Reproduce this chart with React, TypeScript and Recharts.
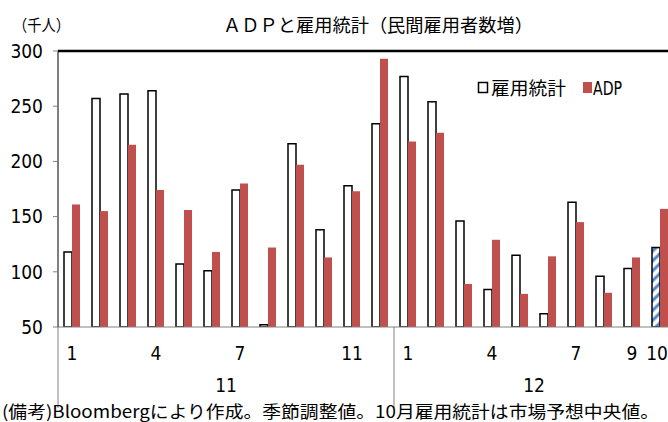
import { Bar, BarChart, Cell, Legend, ReferenceLine, XAxis, YAxis } from 'recharts';

const months = ['1', '2', '3', '4', '5', '6', '7', '8', '9', '10', '11', '12', '1', '2', '3', '4', '5', '6', '7', '8', '9', '10'];
const monthLabels = ['1', '', '', '4', '', '', '7', '', '', '', '11', '', '1', '', '', '4', '', '', '7', '', '9', '10'];
const years = ['11', '11', '11', '11', '11', '11', '11', '11', '11', '11', '11', '11', '12', '12', '12', '12', '12', '12', '12', '12', '12', '12'];
// 雇用統計 (last value = market forecast median)
const nfp = [118, 257, 261, 264, 107, 101, 174, 52, 216, 138, 178, 234, 277, 254, 146, 84, 115, 62, 163, 96, 103, 122];
const adp = [161, 155, 215, 174, 156, 118, 180, 122, 197, 113, 173, 293, 218, 226, 89, 129, 80, 114, 145, 81, 113, 157];
const yTicks = [50, 100, 150, 200, 250, 300];

const data = months.map((m, i) => ({ m: `${years[i]}-${m}`, label: monthLabels[i], year: years[i], nfp: nfp[i], adp: adp[i] }));

const W = 676;
const H = 422;
const margin = { top: 51, right: 2, left: 8, bottom: 15 };
const yAxisW = 50;
const band = (W - margin.left - margin.right - yAxisW) / data.length;

const num = '"DejaVu Sans Condensed", "DejaVu Sans", sans-serif';
const jp = '"Noto Sans CJK JP", sans-serif';
const red = '#c0504d';

function MonthTick({ x, y, index }: any) {
  const t = monthLabels[index];
  if (!t) return null;
  // last label sits at the window edge, keep it inside
  const last = index === monthLabels.length - 1;
  return (
    <text x={last ? x + 8 : x} y={y + 33} textAnchor={last ? 'end' : 'middle'} fontSize={19} fontFamily={num} fill="#000">
      {t}
    </text>
  );
}

function YearTick({ x, y, index }: any) {
  if (index > 0 && years[index] === years[index - 1]) return null;
  const n = years.filter((v) => v === years[index]).length;
  const left = x - band / 2;
  return (
    <g>
      <line x1={left} x2={left} y1={y - 40} y2={y + 41} stroke="#808080" strokeWidth={1} />
      <text x={left + (n * band) / 2} y={y + 25} textAnchor="middle" fontSize={19} fontFamily={num} fill="#000">
        {years[index]}
      </text>
    </g>
  );
}

function LegendBox() {
  return (
    <svg width={180} height={28} style={{ display: 'block', overflow: 'visible' }}>
      <rect x={2.5} y={8.5} width={9} height={10} fill="#fff" stroke="#000" strokeWidth={1.5} />
      <text x={15} y={21} fontSize={18} fontFamily={jp} textLength={75} lengthAdjust="spacingAndGlyphs">
        雇用統計
      </text>
      <rect x={107} y={8} width={9} height={11} fill={red} />
      <text x={117} y={21} fontSize={19} fontFamily={num} textLength={29} lengthAdjust="spacingAndGlyphs">
        ADP
      </text>
    </svg>
  );
}

export default function App() {
  return (
    <div style={{ position: 'absolute', left: 0, top: 0, width: 668, height: 422, overflow: 'hidden', background: '#fff' }}>
      <BarChart width={W} height={H} data={data} margin={margin} barGap={0} barSize={8}>
        <defs>
          <pattern id="hatch" patternUnits="userSpaceOnUse" width={7} height={7} patternTransform="rotate(45)">
            <rect width={7} height={7} fill="#fff" />
            <line x1={2} y1={0} x2={2} y2={7} stroke="#4f86c6" strokeWidth={3} />
          </pattern>
        </defs>
        <XAxis
          dataKey="m"
          interval={0}
          height={40}
          tickSize={0}
          tickMargin={0}
          tickLine={false}
          axisLine={{ stroke: '#808080' }}
          tick={<MonthTick />}
        />
        <XAxis
          xAxisId="yr"
          dataKey="year"
          interval={0}
          height={40}
          tickSize={0}
          tickMargin={0}
          tickLine={false}
          axisLine={false}
          tick={<YearTick />}
        />
        <YAxis
          width={yAxisW}
          domain={[50, 300]}
          ticks={yTicks}
          interval={0}
          allowDataOverflow
          axisLine={{ stroke: '#000' }}
          tickLine={{ stroke: '#808080' }}
          tickSize={5}
          tickMargin={10}
          tick={{ fontSize: 19, fontFamily: num, fill: '#000' }}
        />
        <ReferenceLine y={300} stroke="#000" strokeWidth={2.5} />
        <Legend
          layout="horizontal"
          verticalAlign="middle"
          wrapperStyle={{ position: 'absolute', top: 74, left: 476, width: 180, height: 28 }}
          content={() => <LegendBox />}
        />
        <Bar dataKey="nfp" name="雇用統計" fill="#fff" stroke="#000" strokeWidth={1.5} isAnimationActive={false}>
          {data.map((_, i) => (
            <Cell key={i} fill={i === data.length - 1 ? 'url(#hatch)' : '#fff'} />
          ))}
        </Bar>
        <Bar dataKey="adp" name="ADP" fill={red} isAnimationActive={false} />
      </BarChart>
      <svg width={668} height={422} style={{ position: 'absolute', left: 0, top: 0, pointerEvents: 'none' }}>
        <text x={13} y={31} fontSize={16} fontFamily={jp} textLength={57} lengthAdjust="spacingAndGlyphs">
          （千人）
        </text>
        <text x={223} y={32} fontSize={18} fontFamily={jp} textLength={310} lengthAdjust="spacingAndGlyphs">
          ＡＤＰと雇用統計（民間雇用者数増）
        </text>
        <text x={2} y={418} fontSize={17} fontFamily={jp} textLength={657} lengthAdjust="spacingAndGlyphs">
          (備考)Bloombergにより作成。季節調整値。10月雇用統計は市場予想中央値。
        </text>
      </svg>
    </div>
  );
}
